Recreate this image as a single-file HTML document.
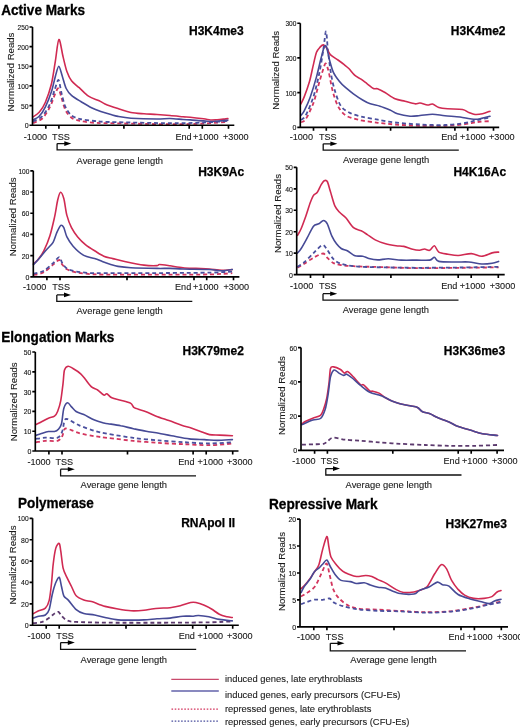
<!DOCTYPE html><html><head><meta charset="utf-8"><style>
html,body{margin:0;padding:0;background:#fff;width:520px;height:728px;overflow:hidden}
svg{display:block;filter:blur(0.3px)}
text{font-family:"Liberation Sans",sans-serif;fill:#1c1c1c}
.h{font-weight:bold;font-size:14.6px;fill:#000;stroke:#000;stroke-width:0.3px}
.t{font-weight:bold;font-size:12px;fill:#000;stroke:#000;stroke-width:0.25px}
.xl{font-size:9.9px;fill:#1a1a1a;stroke:#1a1a1a;stroke-width:0.12px}
.yl{font-size:8px;fill:#111;stroke:#111;stroke-width:0.12px}
.nr{font-size:9.6px;fill:#1a1a1a;stroke:#1a1a1a;stroke-width:0.1px}
.av{font-size:9.4px;fill:#1a1a1a;stroke:#1a1a1a;stroke-width:0.1px}
.lg{font-size:9.4px;fill:#1a1a1a;stroke:#1a1a1a;stroke-width:0.1px}
.ax{stroke:#000;stroke-width:1.65;fill:none}
.ar{stroke:#111;stroke-width:1.3;fill:none}
.c{fill:none;stroke-width:1.6;stroke-linejoin:round;stroke-linecap:round}
.d{fill:none;stroke-width:1.8;stroke-dasharray:4 2.9}
</style></head><body>
<svg width="520" height="728" viewBox="0 0 520 728">
<rect width="520" height="728" fill="#fff"/>
<text class="h" x="1.2" y="14.8" textLength="83.8" lengthAdjust="spacingAndGlyphs">Active Marks</text>
<text class="h" x="1.2" y="342.4" textLength="113.2" lengthAdjust="spacingAndGlyphs">Elongation Marks</text>
<text class="h" x="18.0" y="507.7" textLength="75.9" lengthAdjust="spacingAndGlyphs">Polymerase</text>
<text class="h" x="269" y="508.6" textLength="108.5" lengthAdjust="spacingAndGlyphs">Repressive Mark</text>
<path class="d" stroke="#d3355e" d="M33.0,123.0C34.4,122.3 39.8,120.9 42.3,118.5C44.8,116.1 48.0,110.7 50.0,106.9C52.0,103.1 54.1,95.9 55.4,93.1C56.7,90.3 57.6,87.8 58.5,88.5C59.4,89.2 60.5,94.5 61.5,97.7C62.5,100.9 63.9,107.0 65.4,110.0C66.9,113.0 69.2,116.0 71.5,117.7C73.8,119.4 77.3,120.2 80.8,121.0C84.3,121.8 90.2,122.5 94.6,122.8C99.0,123.1 98.7,123.0 110.0,123.2C121.3,123.4 156.0,124.2 170.0,124.2C184.0,124.2 194.9,123.9 203.6,123.5C212.3,123.1 224.3,122.1 227.9,121.8"/>
<path class="d" stroke="#4a4f9e" d="M33.0,121.5C34.4,120.7 39.8,118.9 42.3,116.2C44.8,113.5 48.2,107.7 50.0,103.8C51.8,99.9 53.3,93.6 54.6,90.0C55.9,86.4 57.5,79.5 58.5,80.0C59.5,80.5 60.5,89.1 61.5,93.1C62.5,97.1 63.9,103.6 65.4,106.9C66.9,110.2 69.2,113.6 71.5,115.4C73.8,117.2 77.3,118.4 80.8,119.2C84.3,120.0 90.2,120.6 94.6,121.0C99.0,121.4 98.7,121.7 110.0,122.0C121.3,122.3 156.9,123.1 170.0,123.2C183.1,123.3 190.9,123.0 197.0,122.8C203.1,122.6 205.8,122.5 210.4,122.2C215.0,121.9 225.3,121.1 227.9,120.9"/>
<path class="c" stroke="#d02a52" d="M33.0,116.9C33.9,116.2 37.3,114.5 39.2,112.3C41.1,110.1 43.6,106.6 45.4,102.3C47.2,98.0 50.0,90.0 51.5,83.8C53.0,77.6 54.3,67.4 55.4,60.8C56.5,54.2 57.7,40.1 58.9,39.5C60.1,38.9 61.9,52.1 63.1,56.9C64.3,61.7 65.6,67.9 66.9,71.5C68.2,75.1 69.7,78.4 71.5,80.8C73.3,83.2 76.7,85.4 79.2,87.7C81.8,90.0 85.5,94.2 88.5,96.2C91.5,98.2 96.7,99.6 99.2,100.8C101.7,102.0 102.2,102.7 105.0,103.9C107.8,105.1 114.1,107.3 118.0,108.6C121.9,109.9 127.1,111.7 131.0,112.5C134.9,113.3 140.1,113.5 144.0,113.8C147.9,114.1 153.1,114.2 157.0,114.5C160.9,114.8 166.1,115.2 170.0,115.5C173.9,115.8 180.0,116.5 183.0,116.8C186.0,117.1 187.1,116.9 190.2,117.2C193.3,117.5 200.6,118.4 203.6,118.8C206.6,119.2 208.4,119.8 210.4,120.0C212.4,120.2 215.1,119.9 217.1,119.8C219.1,119.7 222.2,119.3 223.8,119.1C225.4,118.9 227.3,118.7 227.9,118.6"/>
<path class="c" stroke="#464a96" d="M33.0,120.0C33.9,119.4 37.3,118.2 39.2,116.2C41.1,114.2 43.6,110.6 45.4,106.9C47.2,103.2 50.0,96.1 51.5,91.5C53.0,86.9 54.3,80.0 55.4,76.2C56.5,72.4 57.8,66.2 58.8,66.2C59.8,66.2 61.2,72.9 62.3,76.2C63.4,79.5 64.8,85.6 66.2,88.5C67.6,91.4 69.3,93.5 71.5,95.4C73.7,97.4 77.8,99.7 80.8,101.5C83.8,103.3 88.5,106.2 91.5,107.7C94.5,109.2 98.0,110.5 100.8,111.5C103.6,112.5 107.4,113.6 110.0,114.3C112.6,115.0 114.8,115.8 118.0,116.4C121.2,117.0 125.2,117.8 131.0,118.2C136.8,118.6 151.2,119.0 157.0,119.0C162.8,119.0 166.1,118.4 170.0,118.5C173.9,118.6 180.0,119.3 183.0,119.5C186.0,119.7 187.1,119.7 190.2,119.9C193.3,120.1 200.2,120.7 203.6,120.9C207.0,121.1 210.4,121.5 213.0,121.5C215.6,121.5 218.8,121.1 221.0,120.9C223.2,120.7 226.9,120.3 227.9,120.2"/>
<path class="ax" d="M32.5,27.0V125.2M30.2,125.2H234.3M29.5,125.2H32.5M29.5,105.6H32.5M29.5,85.9H32.5M29.5,66.3H32.5M29.5,46.6H32.5M29.5,27.0H32.5M45.8,125.2V128.7M58.9,125.2V128.7M123.9,125.2V128.7M189.2,125.2V128.7M202.3,125.2V128.7M228.5,125.2V128.7"/>
<text class="yl" x="24.7" y="128.1" textLength="3.9" lengthAdjust="spacingAndGlyphs">0</text>
<text class="yl" x="21.0" y="108.5" textLength="7.6" lengthAdjust="spacingAndGlyphs">50</text>
<text class="yl" x="17.6" y="88.8" textLength="11.0" lengthAdjust="spacingAndGlyphs">100</text>
<text class="yl" x="17.6" y="69.2" textLength="11.0" lengthAdjust="spacingAndGlyphs">150</text>
<text class="yl" x="17.6" y="49.5" textLength="11.0" lengthAdjust="spacingAndGlyphs">200</text>
<text class="yl" x="17.6" y="29.9" textLength="11.0" lengthAdjust="spacingAndGlyphs">250</text>
<text class="xl" x="23.8" y="139.5" textLength="23.3" lengthAdjust="spacingAndGlyphs">-1000</text>
<text class="xl" x="52.1" y="139.5" textLength="17.7" lengthAdjust="spacingAndGlyphs">TSS</text>
<text class="xl" x="175.4" y="139.5" textLength="16.2" lengthAdjust="spacingAndGlyphs">End</text>
<text class="xl" x="193" y="139.5" textLength="25.6" lengthAdjust="spacingAndGlyphs">+1000</text>
<text class="xl" x="223" y="139.5" textLength="25.6" lengthAdjust="spacingAndGlyphs">+3000</text>
<text class="nr" transform="translate(14.1,72.1) rotate(-90)" text-anchor="middle">Normalized Reads</text>
<text class="t" x="189" y="35.2">H3K4me3</text>
<path class="ar" d="M57.1,143.6V149.9H192.8M57.1,143.6H65.1"/>
<path d="M64.3,141.3L71.3,143.6L64.3,145.9Z" fill="#000"/>
<text class="av" x="76.6" y="163.8">Average gene length</text>
<path class="d" stroke="#d3355e" d="M301.0,122.3C301.7,121.8 303.8,122.1 305.7,119.2C307.6,116.3 311.3,108.8 313.4,103.1C315.5,97.4 317.9,87.0 319.5,81.5C321.1,76.0 323.2,68.9 324.2,66.2C325.2,63.5 325.3,62.9 326.0,63.8C326.7,64.7 327.8,68.2 328.8,72.3C329.8,76.3 331.2,85.7 332.6,90.8C334.0,95.9 336.0,102.5 338.0,106.2C340.0,109.9 342.5,113.3 345.7,115.4C348.9,117.5 354.7,118.9 359.5,120.0C364.3,121.1 372.7,122.1 378.0,122.8C383.3,123.5 388.7,124.0 395.0,124.5C401.3,125.0 412.5,125.6 420.0,125.8C427.5,126.0 438.2,126.0 445.0,125.8C451.8,125.6 460.1,124.8 465.0,124.2C469.9,123.6 473.8,122.5 477.5,122.0C481.2,121.5 488.1,121.3 490.0,121.2"/>
<path class="d" stroke="#4a4f9e" d="M301.0,120.0C301.7,119.3 303.8,118.9 305.7,115.4C307.6,111.9 311.3,103.4 313.4,96.9C315.5,90.4 318.0,79.5 319.5,72.3C321.0,65.1 322.4,55.3 323.4,49.2C324.4,43.1 325.3,31.3 326.0,31.5C326.7,31.7 327.2,44.5 328.0,50.8C328.8,57.1 330.0,67.8 331.0,73.8C332.0,79.8 333.4,85.9 334.9,90.8C336.4,95.7 338.7,102.9 341.0,106.2C343.3,109.5 347.1,111.5 350.3,113.1C353.5,114.7 358.4,115.9 362.6,116.9C366.8,117.9 373.1,118.9 378.0,119.7C382.9,120.5 388.7,121.8 395.0,122.5C401.3,123.2 412.5,124.1 420.0,124.5C427.5,124.9 438.2,125.2 445.0,125.0C451.8,124.8 460.1,123.8 465.0,123.0C469.9,122.2 473.8,120.8 477.5,120.0C481.2,119.2 488.1,117.9 490.0,117.5"/>
<path class="c" stroke="#d02a52" d="M301.0,103.8C301.5,102.8 302.9,100.2 304.2,96.9C305.5,93.6 308.1,86.3 309.5,81.5C310.9,76.7 312.3,69.0 313.4,64.6C314.4,60.2 315.5,55.0 316.5,52.3C317.5,49.6 319.3,48.0 320.3,46.9C321.3,45.8 322.5,44.8 323.4,44.9C324.3,45.0 325.5,46.2 326.5,47.7C327.5,49.2 328.6,52.8 330.3,54.6C332.0,56.4 335.9,58.5 338.0,60.0C340.1,61.5 342.6,63.3 344.2,64.6C345.8,65.9 347.2,66.9 348.8,68.5C350.4,70.1 353.1,73.8 354.9,75.4C356.7,77.0 359.2,77.9 361.0,79.2C362.8,80.5 365.3,82.4 367.2,83.8C369.1,85.2 371.9,87.8 373.4,88.5C374.9,89.2 375.8,88.2 377.5,88.8C379.2,89.4 382.4,91.0 385.0,92.5C387.6,94.0 392.0,97.5 395.0,98.8C398.0,100.1 402.0,100.5 405.0,101.2C408.0,102.0 412.8,103.5 415.0,103.8C417.2,104.1 418.1,102.8 420.0,103.0C421.9,103.2 425.6,104.8 427.5,105.0C429.4,105.2 430.8,103.6 432.5,104.0C434.2,104.4 436.6,106.8 438.8,107.5C441.1,108.2 443.9,108.5 447.5,108.8C451.1,109.1 459.3,108.9 462.5,109.5C465.7,110.1 466.9,111.8 468.8,112.5C470.7,113.2 472.9,114.3 475.0,114.5C477.1,114.7 480.2,114.3 482.5,113.8C484.8,113.3 488.9,111.6 490.0,111.2"/>
<path class="c" stroke="#464a96" d="M301.0,115.4C301.5,114.7 302.8,113.6 304.2,110.8C305.6,108.0 308.5,102.0 310.3,96.9C312.1,91.8 314.9,82.7 316.5,76.9C318.1,71.1 319.8,63.0 321.0,58.5C322.2,54.0 323.4,48.6 324.2,46.9C325.0,45.2 325.7,44.9 326.5,46.9C327.3,48.9 328.5,56.2 329.5,60.0C330.5,63.8 331.9,69.1 333.4,72.3C334.9,75.5 337.7,79.2 339.5,81.5C341.3,83.8 343.6,85.9 345.7,87.7C347.8,89.5 350.9,92.0 353.4,93.8C355.9,95.6 360.1,98.5 362.6,100.0C365.1,101.5 367.7,102.9 370.3,103.8C372.9,104.7 377.0,105.3 380.0,106.2C383.0,107.1 387.4,108.9 390.0,110.0C392.6,111.1 394.5,112.9 397.5,113.8C400.5,114.7 406.6,115.9 410.0,116.2C413.4,116.5 416.6,115.8 420.0,115.5C423.4,115.2 428.8,114.2 432.5,114.2C436.2,114.2 440.9,115.4 445.0,115.8C449.1,116.2 456.2,116.5 460.0,117.0C463.8,117.5 467.4,118.5 470.0,118.8C472.6,119.1 474.5,119.6 477.5,119.2C480.5,118.8 488.1,116.7 490.0,116.2"/>
<path class="ax" d="M300.3,23.2V127.3M298.0,127.3H499.2M297.3,127.3H300.3M297.3,92.6H300.3M297.3,57.9H300.3M297.3,23.2H300.3M313.5,127.3V130.8M326.3,127.3V130.8M390.6,127.3V130.8M454.9,127.3V130.8M467.7,127.3V130.8M493.5,127.3V130.8"/>
<text class="yl" x="292.5" y="130.2" textLength="3.9" lengthAdjust="spacingAndGlyphs">0</text>
<text class="yl" x="285.4" y="95.5" textLength="11.0" lengthAdjust="spacingAndGlyphs">100</text>
<text class="yl" x="285.4" y="60.8" textLength="11.0" lengthAdjust="spacingAndGlyphs">200</text>
<text class="yl" x="285.4" y="26.1" textLength="11.0" lengthAdjust="spacingAndGlyphs">300</text>
<text class="xl" x="289.7" y="139.5" textLength="23.3" lengthAdjust="spacingAndGlyphs">-1000</text>
<text class="xl" x="318.9" y="139.5" textLength="17.7" lengthAdjust="spacingAndGlyphs">TSS</text>
<text class="xl" x="441.2" y="139.5" textLength="16.2" lengthAdjust="spacingAndGlyphs">End</text>
<text class="xl" x="460" y="139.5" textLength="25.6" lengthAdjust="spacingAndGlyphs">+1000</text>
<text class="xl" x="489" y="139.5" textLength="25.6" lengthAdjust="spacingAndGlyphs">+3000</text>
<text class="nr" transform="translate(279.1,70.3) rotate(-90)" text-anchor="middle">Normalized Reads</text>
<text class="t" x="450.8" y="35.2">H3K4me2</text>
<path class="ar" d="M323.2,143.8V150.1H458.8M323.2,143.8H331.2"/>
<path d="M330.4,141.5L337.4,143.8L330.4,146.1Z" fill="#000"/>
<text class="av" x="342.9" y="163.3">Average gene length</text>
<path class="d" stroke="#d3355e" d="M33.5,275.0C35.0,274.6 40.9,273.9 43.8,272.3C46.7,270.7 50.8,266.4 53.1,264.6C55.4,262.8 57.8,260.0 59.2,260.0C60.6,260.0 61.1,263.2 62.3,264.6C63.5,266.0 64.8,268.0 66.9,269.2C69.0,270.4 72.5,271.6 76.2,272.3C79.9,273.1 86.4,273.9 91.5,274.2C96.6,274.5 98.2,274.5 110.0,274.6C121.8,274.7 155.0,274.7 170.0,274.7C185.0,274.7 200.7,274.6 210.0,274.4C219.3,274.2 229.0,273.4 232.3,273.2"/>
<path class="d" stroke="#4a4f9e" d="M33.5,273.8C35.0,273.4 40.9,272.4 43.8,270.8C46.7,269.2 50.8,265.1 53.1,263.1C55.4,261.1 57.8,257.2 59.2,257.2C60.6,257.2 61.1,261.4 62.3,263.1C63.5,264.8 64.8,267.2 66.9,268.5C69.0,269.8 72.5,270.8 76.2,271.5C79.9,272.2 86.4,272.9 91.5,273.1C96.6,273.3 98.2,273.1 110.0,273.1C121.8,273.1 155.0,273.1 170.0,273.0C185.0,272.9 200.7,272.8 210.0,272.6C219.3,272.4 229.0,271.8 232.3,271.6"/>
<path class="c" stroke="#d02a52" d="M33.5,263.8C34.1,263.2 36.2,261.9 37.7,260.0C39.2,258.1 42.0,254.5 43.8,250.8C45.6,247.1 48.4,240.5 50.0,235.4C51.6,230.3 53.4,222.2 54.6,216.9C55.8,211.6 56.8,203.7 57.7,200.0C58.6,196.3 59.6,192.5 60.5,192.3C61.4,192.1 62.8,195.0 63.8,198.5C64.8,202.0 65.7,211.0 66.9,215.4C68.1,219.8 69.9,224.5 71.5,227.7C73.1,230.9 75.6,234.4 77.7,236.9C79.8,239.4 82.9,242.5 85.4,244.6C87.9,246.7 91.8,249.1 94.6,250.8C97.4,252.5 101.1,255.0 103.8,256.2C106.5,257.4 109.5,257.8 112.8,258.6C116.1,259.4 121.1,260.7 125.8,261.7C130.5,262.7 139.3,264.5 144.0,265.1C148.7,265.7 154.7,265.7 157.0,265.6C159.3,265.5 157.6,264.5 159.5,264.5C161.4,264.5 166.5,265.3 170.0,265.8C173.5,266.3 179.1,267.3 183.0,267.7C186.9,268.1 192.1,268.2 196.0,268.4C199.9,268.6 205.1,268.7 209.0,269.0C212.9,269.3 218.4,270.2 221.9,270.3C225.4,270.4 230.7,269.6 232.3,269.5"/>
<path class="c" stroke="#464a96" d="M33.5,264.6C34.4,263.7 37.2,260.8 39.2,258.5C41.2,256.2 44.8,251.6 46.9,249.2C49.0,246.8 51.6,244.8 53.1,242.3C54.6,239.8 55.7,234.8 56.9,232.3C58.1,229.8 59.8,226.1 60.8,225.4C61.8,224.7 62.9,226.0 63.8,227.7C64.7,229.4 65.5,234.1 66.9,236.9C68.3,239.7 70.6,243.4 73.1,246.2C75.6,249.0 80.6,253.6 83.8,255.4C87.0,257.2 91.8,257.6 94.6,258.5C97.4,259.4 100.0,260.6 102.3,261.5C104.6,262.4 107.6,263.6 110.0,264.3C112.4,265.0 114.8,265.9 118.0,266.4C121.2,266.9 125.2,267.4 131.0,267.7C136.8,268.0 151.2,268.3 157.0,268.4C162.8,268.5 166.1,268.3 170.0,268.4C173.9,268.5 177.2,268.8 183.0,269.0C188.8,269.2 203.2,269.2 209.0,269.5C214.8,269.8 218.4,270.8 221.9,270.8C225.4,270.8 230.7,269.7 232.3,269.5"/>
<path class="ax" d="M33.3,170.8V276.8M30.8,276.8H239.4M30.3,276.8H33.3M30.3,255.6H33.3M30.3,234.4H33.3M30.3,213.2H33.3M30.3,192.0H33.3M30.3,170.8H33.3M46.9,276.8V280.3M60.0,276.8V280.3M127.0,276.8V280.3M194.0,276.8V280.3M206.7,276.8V280.3M233.5,276.8V280.3"/>
<text class="yl" x="25.5" y="279.7" textLength="3.9" lengthAdjust="spacingAndGlyphs">0</text>
<text class="yl" x="21.8" y="258.5" textLength="7.6" lengthAdjust="spacingAndGlyphs">20</text>
<text class="yl" x="21.8" y="237.3" textLength="7.6" lengthAdjust="spacingAndGlyphs">40</text>
<text class="yl" x="21.8" y="216.1" textLength="7.6" lengthAdjust="spacingAndGlyphs">60</text>
<text class="yl" x="21.8" y="194.9" textLength="7.6" lengthAdjust="spacingAndGlyphs">80</text>
<text class="yl" x="18.4" y="173.7" textLength="11.0" lengthAdjust="spacingAndGlyphs">100</text>
<text class="xl" x="23" y="290.4" textLength="23.3" lengthAdjust="spacingAndGlyphs">-1000</text>
<text class="xl" x="52.3" y="290.4" textLength="17.7" lengthAdjust="spacingAndGlyphs">TSS</text>
<text class="xl" x="175" y="290.4" textLength="16.2" lengthAdjust="spacingAndGlyphs">End</text>
<text class="xl" x="193" y="290.4" textLength="25.6" lengthAdjust="spacingAndGlyphs">+1000</text>
<text class="xl" x="223.5" y="290.4" textLength="25.6" lengthAdjust="spacingAndGlyphs">+3000</text>
<text class="nr" transform="translate(16.0,216.9) rotate(-90)" text-anchor="middle">Normalized Reads</text>
<text class="t" x="198.2" y="175.6">H3K9Ac</text>
<path class="ar" d="M56.8,294.9V301.4H192.3M56.8,294.9H64.8"/>
<path d="M64.0,292.6L71.0,294.9L64.0,297.2Z" fill="#000"/>
<text class="av" x="76.4" y="314.4">Average gene length</text>
<path class="d" stroke="#d3355e" d="M297.5,267.7C298.5,267.1 301.8,265.3 304.2,263.8C306.6,262.3 310.7,259.2 313.5,257.7C316.3,256.2 320.9,253.5 323.0,253.5C325.1,253.5 325.7,256.3 327.3,257.7C328.9,259.1 331.4,262.0 333.5,263.1C335.6,264.2 338.2,264.6 341.2,265.1C344.2,265.6 348.4,265.9 353.5,266.2C358.6,266.5 365.0,266.6 375.0,266.9C385.0,267.2 407.2,268.1 420.0,268.2C432.8,268.3 448.2,267.9 460.0,267.8C471.8,267.7 492.8,267.4 498.6,267.3"/>
<path class="d" stroke="#4a4f9e" d="M297.5,266.9C298.5,266.2 301.8,264.4 304.2,262.3C306.6,260.2 310.8,255.7 313.5,253.1C316.2,250.5 320.3,245.6 322.4,245.1C324.5,244.6 325.6,247.9 327.3,250.0C329.0,252.1 331.4,257.1 333.5,259.2C335.6,261.3 338.2,262.8 341.2,263.8C344.2,264.9 348.4,265.7 353.5,266.2C358.6,266.7 365.0,267.0 375.0,267.2C385.0,267.4 407.2,267.8 420.0,267.8C432.8,267.8 448.2,267.6 460.0,267.5C471.8,267.4 492.8,266.9 498.6,266.8"/>
<path class="c" stroke="#d02a52" d="M297.5,235.4C298.1,234.4 300.0,231.4 301.2,228.5C302.4,225.6 304.4,220.1 305.8,216.2C307.2,212.3 309.2,205.4 310.4,202.3C311.6,199.2 312.5,196.9 313.5,195.4C314.5,193.9 316.1,193.9 317.3,192.3C318.5,190.7 320.2,186.3 321.2,184.6C322.2,182.9 323.3,181.3 324.2,180.8C325.1,180.3 326.4,179.9 327.3,181.5C328.2,183.1 329.2,187.8 330.4,191.5C331.6,195.2 333.6,203.1 335.0,206.2C336.4,209.3 338.0,210.6 339.6,212.3C341.2,214.0 343.7,215.4 345.8,217.7C347.9,220.0 351.2,225.7 353.5,227.7C355.8,229.7 359.1,229.8 361.2,230.8C363.3,231.8 365.2,233.2 367.3,234.6C369.4,236.0 372.5,238.5 375.2,239.9C377.9,241.3 382.5,242.9 385.6,243.8C388.7,244.7 393.3,245.4 396.0,245.8C398.7,246.2 401.5,245.9 403.8,246.4C406.1,246.9 409.3,248.4 411.6,249.0C413.9,249.6 417.5,250.3 419.4,250.3C421.3,250.3 423.0,249.0 424.5,249.0C426.0,249.0 428.2,250.8 429.7,250.3C431.2,249.8 433.0,245.5 434.4,245.8C435.8,246.1 436.8,250.8 438.8,252.1C440.8,253.4 445.0,253.7 447.9,254.2C450.8,254.7 454.8,255.6 458.3,255.5C461.8,255.4 467.8,253.5 471.3,253.6C474.8,253.7 478.6,256.3 481.7,256.2C484.8,256.1 489.6,253.5 492.1,252.9C494.6,252.3 497.6,252.2 498.6,252.1"/>
<path class="c" stroke="#464a96" d="M297.5,253.1C298.1,252.4 299.7,250.8 301.2,248.5C302.7,246.2 305.5,241.0 307.3,237.7C309.1,234.4 311.8,228.3 313.5,226.2C315.2,224.1 317.3,224.7 318.8,223.8C320.3,222.9 322.2,220.5 323.5,220.5C324.8,220.5 326.0,221.4 327.3,223.8C328.6,226.2 330.5,233.2 331.9,236.2C333.3,239.2 335.1,242.0 336.5,243.8C337.9,245.6 339.6,247.4 341.2,248.5C342.8,249.6 345.2,249.7 347.3,250.8C349.4,251.9 352.7,255.0 355.0,255.8C357.3,256.6 360.6,255.8 362.7,256.2C364.8,256.6 366.5,257.9 368.8,258.5C371.1,259.1 374.9,259.9 377.8,259.9C380.7,259.9 384.7,258.8 388.2,258.8C391.7,258.8 396.9,259.9 401.2,260.1C405.5,260.3 412.5,260.1 416.8,260.1C421.1,260.1 427.1,260.5 429.7,260.1C432.3,259.7 433.0,257.1 434.4,257.3C435.8,257.5 435.6,260.7 438.8,261.4C442.0,262.1 451.2,261.9 455.7,262.0C460.2,262.1 464.8,261.7 468.7,262.0C472.6,262.3 478.2,263.8 481.7,264.0C485.2,264.2 489.6,263.6 492.1,263.2C494.6,262.8 497.6,261.7 498.6,261.4"/>
<path class="ax" d="M296.7,167.3V274.6M294.2,274.6H504.7M293.7,274.6H296.7M293.7,253.1H296.7M293.7,231.7H296.7M293.7,210.2H296.7M293.7,188.8H296.7M293.7,167.3H296.7M310.5,274.6V278.1M323.5,274.6V278.1M390.9,274.6V278.1M458.2,274.6V278.1M471.2,274.6V278.1M498.3,274.6V278.1"/>
<text class="yl" x="288.9" y="277.5" textLength="3.9" lengthAdjust="spacingAndGlyphs">0</text>
<text class="yl" x="285.2" y="256.0" textLength="7.6" lengthAdjust="spacingAndGlyphs">10</text>
<text class="yl" x="285.2" y="234.6" textLength="7.6" lengthAdjust="spacingAndGlyphs">20</text>
<text class="yl" x="285.2" y="213.1" textLength="7.6" lengthAdjust="spacingAndGlyphs">30</text>
<text class="yl" x="285.2" y="191.7" textLength="7.6" lengthAdjust="spacingAndGlyphs">40</text>
<text class="yl" x="285.2" y="170.2" textLength="7.6" lengthAdjust="spacingAndGlyphs">50</text>
<text class="xl" x="290" y="289" textLength="23.3" lengthAdjust="spacingAndGlyphs">-1000</text>
<text class="xl" x="319" y="289" textLength="17.7" lengthAdjust="spacingAndGlyphs">TSS</text>
<text class="xl" x="441.2" y="289" textLength="16.2" lengthAdjust="spacingAndGlyphs">End</text>
<text class="xl" x="459.8" y="289" textLength="25.6" lengthAdjust="spacingAndGlyphs">+1000</text>
<text class="xl" x="489.7" y="289" textLength="25.6" lengthAdjust="spacingAndGlyphs">+3000</text>
<text class="nr" transform="translate(280.8,213.5) rotate(-90)" text-anchor="middle">Normalized Reads</text>
<text class="t" x="453.4" y="175.9">H4K16Ac</text>
<path class="ar" d="M323,293.7V300.2H458.5M323,293.7H331"/>
<path d="M330.2,291.4L337.2,293.7L330.2,296.0Z" fill="#000"/>
<text class="av" x="342.7" y="313.0">Average gene length</text>
<path class="d" stroke="#d3355e" d="M36.0,442.3C37.4,442.1 42.1,441.0 45.3,440.8C48.5,440.6 55.1,441.5 57.6,440.8C60.1,440.1 61.2,437.9 62.2,436.2C63.2,434.5 63.7,430.3 64.5,429.2C65.3,428.1 65.4,428.2 67.6,428.8C69.8,429.4 75.2,432.0 79.2,433.1C83.2,434.2 90.2,435.5 94.5,436.2C98.8,436.9 102.2,437.2 108.0,437.9C113.8,438.6 125.8,440.1 133.4,440.9C141.0,441.6 151.2,442.4 158.8,442.9C166.4,443.4 176.5,443.9 184.1,444.2C191.7,444.5 202.3,445.3 209.5,445.2C216.7,445.1 229.0,443.8 232.4,443.5"/>
<path class="d" stroke="#4a4f9e" d="M36.0,438.9C37.4,438.7 42.1,437.9 45.3,437.7C48.5,437.5 55.1,438.6 57.6,437.7C60.1,436.8 61.2,434.0 62.2,431.5C63.2,429.0 63.7,422.6 64.5,420.8C65.3,419.0 65.4,418.5 67.6,419.2C69.8,419.9 75.2,423.7 79.2,425.4C83.2,427.1 90.2,429.5 94.5,430.8C98.8,432.1 102.2,432.7 108.0,433.8C113.8,434.9 125.8,436.9 133.4,437.9C141.0,438.9 151.2,439.8 158.8,440.4C166.4,441.0 176.5,441.7 184.1,442.2C191.7,442.7 202.3,443.5 209.5,443.5C216.7,443.5 229.0,442.4 232.4,442.2"/>
<path class="c" stroke="#d02a52" d="M36.0,424.6C36.7,424.3 38.8,423.3 40.7,422.3C42.6,421.3 46.3,419.1 48.4,418.2C50.5,417.3 53.1,417.2 54.5,416.2C55.9,415.2 56.7,413.8 57.6,411.5C58.5,409.2 59.9,405.0 60.7,400.8C61.5,396.6 62.4,388.4 63.0,383.8C63.6,379.2 63.7,372.6 64.5,370.0C65.3,367.4 66.8,366.4 68.1,366.2C69.4,366.0 71.1,367.4 73.0,368.5C74.9,369.6 78.9,372.2 80.7,373.8C82.5,375.4 83.7,377.2 85.3,379.2C86.9,381.2 89.7,385.3 91.5,386.9C93.3,388.5 95.8,388.8 97.6,390.0C99.4,391.2 102.4,394.5 103.8,395.1C105.2,395.7 105.6,393.4 106.8,393.8C108.0,394.2 109.7,396.8 111.8,397.8C113.9,398.8 117.8,399.5 120.7,400.3C123.6,401.1 128.7,402.3 130.8,403.4C132.9,404.5 132.3,406.7 134.6,407.9C136.9,409.1 142.9,410.4 146.1,411.7C149.3,413.0 152.8,415.0 156.2,416.3C159.6,417.6 165.1,419.3 168.9,420.6C172.7,421.9 178.2,424.1 181.6,425.2C185.0,426.3 188.8,427.2 191.8,428.2C194.8,429.2 199.2,431.0 201.9,432.0C204.6,433.0 206.8,434.1 209.5,434.6C212.2,435.1 216.3,434.9 219.7,435.1C223.1,435.3 230.5,435.7 232.4,435.8"/>
<path class="c" stroke="#464a96" d="M36.0,435.4C36.7,435.2 38.8,434.4 40.7,433.8C42.6,433.2 46.3,431.8 48.4,431.5C50.5,431.2 53.0,431.8 54.5,431.5C56.0,431.2 57.4,430.4 58.4,429.2C59.4,428.0 60.7,426.9 61.5,423.8C62.3,420.7 62.9,411.6 63.8,408.5C64.7,405.4 66.4,403.0 67.6,402.8C68.8,402.6 70.2,405.6 71.5,406.9C72.8,408.2 74.3,410.3 76.1,411.5C77.9,412.7 81.0,413.3 83.8,414.6C86.6,415.9 91.5,418.7 94.5,420.0C97.5,421.3 101.8,422.5 103.8,423.1C105.8,423.7 105.5,423.3 108.0,423.7C110.5,424.1 116.9,424.9 120.7,425.7C124.5,426.4 129.6,427.9 133.4,428.7C137.2,429.5 142.3,430.6 146.1,431.3C149.9,432.0 155.0,432.6 158.8,433.3C162.6,434.0 166.9,435.0 171.5,435.8C176.1,436.6 184.3,438.3 189.2,438.9C194.1,439.5 200.2,439.4 204.4,439.6C208.6,439.8 212.9,440.4 217.1,440.4C221.3,440.4 230.1,439.7 232.4,439.6"/>
<path class="ax" d="M35.3,352.0V451.0M32.8,451.0H238.5M32.3,451.0H35.3M32.3,431.2H35.3M32.3,411.4H35.3M32.3,391.6H35.3M32.3,371.8H35.3M32.3,352.0H35.3M48.9,451.0V454.5M62.0,451.0V454.5M127.5,451.0V454.5M193.1,451.0V454.5M206.2,451.0V454.5M232.7,451.0V454.5"/>
<text class="yl" x="27.5" y="453.9" textLength="3.9" lengthAdjust="spacingAndGlyphs">0</text>
<text class="yl" x="23.8" y="434.1" textLength="7.6" lengthAdjust="spacingAndGlyphs">10</text>
<text class="yl" x="23.8" y="414.3" textLength="7.6" lengthAdjust="spacingAndGlyphs">20</text>
<text class="yl" x="23.8" y="394.5" textLength="7.6" lengthAdjust="spacingAndGlyphs">30</text>
<text class="yl" x="23.8" y="374.7" textLength="7.6" lengthAdjust="spacingAndGlyphs">40</text>
<text class="yl" x="23.8" y="354.9" textLength="7.6" lengthAdjust="spacingAndGlyphs">50</text>
<text class="xl" x="27.4" y="464.8" textLength="23.3" lengthAdjust="spacingAndGlyphs">-1000</text>
<text class="xl" x="55.4" y="464.8" textLength="17.7" lengthAdjust="spacingAndGlyphs">TSS</text>
<text class="xl" x="178.3" y="464.8" textLength="16.2" lengthAdjust="spacingAndGlyphs">End</text>
<text class="xl" x="197.5" y="464.8" textLength="25.6" lengthAdjust="spacingAndGlyphs">+1000</text>
<text class="xl" x="227" y="464.8" textLength="25.6" lengthAdjust="spacingAndGlyphs">+3000</text>
<text class="nr" transform="translate(17.2,401.8) rotate(-90)" text-anchor="middle">Normalized Reads</text>
<text class="t" x="182.5" y="354.6">H3K79me2</text>
<path class="ar" d="M60.6,469.2V475.8H196M60.6,469.2H68.6"/>
<path d="M67.8,466.9L74.8,469.2L67.8,471.5Z" fill="#000"/>
<text class="av" x="80.6" y="488.3">Average gene length</text>
<path class="d" stroke="#5c3a6e" d="M302.0,444.6C303.9,444.6 311.2,444.4 314.4,444.3C317.6,444.2 321.6,444.2 323.6,443.8C325.6,443.4 326.1,442.4 327.5,441.5C328.9,440.6 330.1,438.0 332.8,437.7C335.5,437.4 341.0,439.2 345.2,439.7C349.4,440.2 355.4,440.4 360.5,440.8C365.6,441.2 373.1,441.9 379.0,442.3C384.9,442.8 393.1,443.4 400.0,443.8C406.9,444.2 417.5,444.7 425.0,445.0C432.5,445.3 442.5,445.7 450.0,445.8C457.5,445.9 467.9,445.9 475.0,445.8C482.1,445.7 494.1,445.1 497.5,445.0"/>
<path class="c" stroke="#d02a52" d="M302.0,423.8C302.5,423.5 303.6,422.3 305.2,421.5C306.8,420.7 310.5,419.1 312.8,418.2C315.1,417.3 318.9,416.8 320.5,415.4C322.1,414.0 322.7,411.7 323.6,409.2C324.5,406.7 325.9,402.4 326.7,398.5C327.5,394.6 328.4,387.6 329.0,383.1C329.6,378.6 329.8,370.9 330.5,368.5C331.2,366.1 332.1,366.8 333.6,366.9C335.1,367.0 338.9,368.6 340.5,369.5C342.1,370.4 343.3,372.8 344.4,373.1C345.4,373.4 346.2,371.0 347.5,371.5C348.8,372.0 350.9,374.2 352.8,376.2C354.8,378.2 358.9,383.3 360.5,384.6C362.1,385.9 362.2,384.0 363.6,384.9C365.0,385.8 368.4,389.9 369.8,390.8C371.2,391.7 371.4,390.9 372.8,391.2C374.2,391.5 377.2,392.2 379.0,393.1C380.8,394.0 383.0,396.3 385.0,397.5C387.0,398.7 390.2,400.3 392.5,401.2C394.8,402.1 397.4,403.1 400.0,403.8C402.6,404.5 407.4,405.2 410.0,405.8C412.6,406.4 415.6,406.6 417.5,407.5C419.4,408.4 420.6,410.9 422.5,411.8C424.4,412.7 427.8,412.9 430.0,413.8C432.2,414.7 434.5,416.2 437.5,417.5C440.5,418.8 447.0,421.2 450.0,422.5C453.0,423.8 454.5,425.1 457.5,426.2C460.5,427.3 466.2,428.9 470.0,430.0C473.8,431.1 478.4,433.0 482.5,433.8C486.6,434.6 495.2,435.2 497.5,435.5"/>
<path class="c" stroke="#464a96" d="M302.0,424.6C303.6,423.9 310.0,420.9 312.8,420.0C315.6,419.1 318.6,420.1 320.5,418.5C322.4,416.9 324.0,412.9 325.2,409.2C326.4,405.5 327.4,398.6 328.2,393.8C329.0,389.0 329.6,380.5 330.5,376.9C331.4,373.3 332.8,370.6 334.1,370.0C335.4,369.4 337.6,372.3 339.0,373.1C340.4,373.9 342.4,375.2 343.6,375.4C344.8,375.6 345.3,373.7 346.7,374.2C348.1,374.7 350.7,376.8 352.8,378.5C354.9,380.2 357.9,383.3 360.5,385.4C363.1,387.5 367.0,390.8 369.8,392.3C372.6,393.8 376.7,394.3 379.0,395.1C381.3,395.9 383.0,396.6 385.0,397.5C387.0,398.4 390.2,400.3 392.5,401.2C394.8,402.1 397.4,403.1 400.0,403.8C402.6,404.5 407.4,405.2 410.0,405.8C412.6,406.4 415.6,406.6 417.5,407.5C419.4,408.4 420.6,410.9 422.5,411.8C424.4,412.7 427.8,412.9 430.0,413.8C432.2,414.7 434.5,416.2 437.5,417.5C440.5,418.8 447.0,421.2 450.0,422.5C453.0,423.8 454.5,425.1 457.5,426.2C460.5,427.3 466.2,428.9 470.0,430.0C473.8,431.1 478.4,433.0 482.5,433.8C486.6,434.6 495.2,435.2 497.5,435.5"/>
<path class="ax" d="M301.0,347.6V450.3M298.5,450.3H504.0M298.0,450.3H301.0M298.0,416.1H301.0M298.0,381.8H301.0M298.0,347.6H301.0M314.6,450.3V453.8M327.4,450.3V453.8M392.8,450.3V453.8M458.2,450.3V453.8M471.2,450.3V453.8M497.1,450.3V453.8"/>
<text class="yl" x="293.2" y="453.2" textLength="3.9" lengthAdjust="spacingAndGlyphs">0</text>
<text class="yl" x="289.5" y="419.0" textLength="7.6" lengthAdjust="spacingAndGlyphs">20</text>
<text class="yl" x="289.5" y="384.7" textLength="7.6" lengthAdjust="spacingAndGlyphs">40</text>
<text class="yl" x="289.5" y="350.5" textLength="7.6" lengthAdjust="spacingAndGlyphs">60</text>
<text class="xl" x="292.3" y="463.9" textLength="23.3" lengthAdjust="spacingAndGlyphs">-1000</text>
<text class="xl" x="320.8" y="463.9" textLength="17.7" lengthAdjust="spacingAndGlyphs">TSS</text>
<text class="xl" x="443.5" y="463.9" textLength="16.2" lengthAdjust="spacingAndGlyphs">End</text>
<text class="xl" x="462" y="463.9" textLength="25.6" lengthAdjust="spacingAndGlyphs">+1000</text>
<text class="xl" x="492" y="463.9" textLength="25.6" lengthAdjust="spacingAndGlyphs">+3000</text>
<text class="nr" transform="translate(284.6,395.6) rotate(-90)" text-anchor="middle">Normalized Reads</text>
<text class="t" x="443.8" y="354.6">H3K36me3</text>
<path class="ar" d="M325.8,468.6V475H461.5M325.8,468.6H333.8"/>
<path d="M333.0,466.3L340.0,468.6L333.0,470.9Z" fill="#000"/>
<text class="av" x="345.6" y="487.5">Average gene length</text>
<path class="d" stroke="#5c3a6e" d="M33.0,623.2C34.4,623.0 39.8,622.8 42.3,621.9C44.8,621.0 48.2,618.6 50.0,617.3C51.8,616.0 53.3,614.3 54.6,613.5C55.9,612.7 57.5,611.6 58.5,611.9C59.5,612.2 60.2,614.5 61.5,615.8C62.8,617.1 64.7,619.5 66.9,620.4C69.1,621.3 69.7,621.6 76.2,621.9C82.7,622.2 95.9,622.6 110.0,622.7C124.1,622.8 155.0,622.8 170.0,622.7C185.0,622.6 200.7,622.5 210.0,622.3C219.3,622.1 229.0,621.5 232.3,621.4"/>
<path class="c" stroke="#d02a52" d="M33.0,613.9C33.7,613.5 35.8,612.1 37.7,611.2C39.6,610.3 43.7,609.7 45.4,608.1C47.1,606.5 48.3,604.1 49.2,600.4C50.1,596.7 50.9,588.8 51.5,583.5C52.1,578.2 52.5,570.3 53.1,565.0C53.7,559.7 54.9,551.3 55.8,548.1C56.7,544.9 58.5,543.0 59.2,543.5C60.0,544.0 60.2,547.5 60.8,551.2C61.4,554.9 62.2,564.2 63.1,568.1C64.0,572.0 65.6,574.5 66.9,577.3C68.2,580.1 70.1,583.7 71.5,586.5C72.9,589.3 74.4,593.8 76.2,595.8C78.0,597.8 81.5,599.2 83.8,600.1C86.1,601.0 89.0,600.9 91.5,601.6C94.0,602.3 98.8,604.3 100.8,605.0C102.8,605.7 102.4,605.8 105.0,606.4C107.6,607.0 114.1,608.3 118.0,609.0C121.9,609.7 127.1,610.6 131.0,610.8C134.9,611.0 140.9,610.6 144.0,610.3C147.1,610.0 149.5,609.3 151.8,609.0C154.1,608.7 156.8,608.4 159.5,608.2C162.2,608.0 166.9,608.1 170.0,607.7C173.1,607.3 177.2,606.6 180.3,605.8C183.4,605.0 188.4,603.0 190.7,602.5C193.0,602.0 194.0,602.1 195.9,602.5C197.8,602.9 201.4,604.1 203.7,605.1C206.0,606.1 209.2,607.6 211.5,609.0C213.8,610.4 217.0,613.0 219.3,614.2C221.6,615.4 225.2,616.3 227.1,616.8C229.0,617.3 231.5,617.4 232.3,617.5"/>
<path class="c" stroke="#464a96" d="M33.0,618.1C33.7,617.9 35.8,617.0 37.7,616.5C39.6,616.0 43.7,616.0 45.4,615.0C47.1,614.0 48.2,612.7 49.2,609.6C50.2,606.5 51.4,598.1 52.3,594.2C53.2,590.3 54.4,586.0 55.4,583.5C56.4,581.0 58.3,576.8 59.2,577.3C60.1,577.8 60.8,583.7 61.5,586.5C62.2,589.3 62.8,593.7 63.8,595.8C64.8,597.9 66.6,598.3 68.5,600.4C70.4,602.5 73.9,607.6 76.2,609.6C78.5,611.6 81.0,612.7 83.8,613.5C86.6,614.3 91.4,614.4 94.6,615.0C97.8,615.6 101.5,616.8 105.0,617.5C108.5,618.2 114.1,619.5 118.0,619.9C121.9,620.3 127.1,620.1 131.0,620.1C134.9,620.1 140.1,620.1 144.0,619.9C147.9,619.7 153.1,619.1 157.0,618.8C160.9,618.5 166.1,618.5 170.0,618.1C173.9,617.7 179.4,616.5 182.9,616.2C186.4,615.9 191.0,616.3 193.3,616.2C195.6,616.1 196.2,615.4 198.5,615.5C200.8,615.6 205.8,616.2 208.9,616.8C212.0,617.4 215.8,618.8 219.3,619.4C222.8,620.0 230.4,620.7 232.3,620.9"/>
<path class="ax" d="M32.6,518.3V625.2M30.1,625.2H238.8M29.6,625.2H32.6M29.6,603.8H32.6M29.6,582.4H32.6M29.6,561.1H32.6M29.6,539.7H32.6M29.6,518.3H32.6M46.2,625.2V628.7M59.2,625.2V628.7M126.0,625.2V628.7M192.7,625.2V628.7M206.2,625.2V628.7M232.7,625.2V628.7"/>
<text class="yl" x="24.8" y="628.1" textLength="3.9" lengthAdjust="spacingAndGlyphs">0</text>
<text class="yl" x="21.1" y="606.7" textLength="7.6" lengthAdjust="spacingAndGlyphs">20</text>
<text class="yl" x="21.1" y="585.3" textLength="7.6" lengthAdjust="spacingAndGlyphs">40</text>
<text class="yl" x="21.1" y="564.0" textLength="7.6" lengthAdjust="spacingAndGlyphs">60</text>
<text class="yl" x="21.1" y="542.6" textLength="7.6" lengthAdjust="spacingAndGlyphs">80</text>
<text class="yl" x="17.7" y="521.2" textLength="11.0" lengthAdjust="spacingAndGlyphs">100</text>
<text class="xl" x="27.4" y="638.7" textLength="23.3" lengthAdjust="spacingAndGlyphs">-1000</text>
<text class="xl" x="56.2" y="638.7" textLength="17.7" lengthAdjust="spacingAndGlyphs">TSS</text>
<text class="xl" x="178.7" y="638.7" textLength="16.2" lengthAdjust="spacingAndGlyphs">End</text>
<text class="xl" x="197.5" y="638.7" textLength="25.6" lengthAdjust="spacingAndGlyphs">+1000</text>
<text class="xl" x="227" y="638.7" textLength="25.6" lengthAdjust="spacingAndGlyphs">+3000</text>
<text class="nr" transform="translate(16.0,565.0) rotate(-90)" text-anchor="middle">Normalized Reads</text>
<text class="t" x="181.2" y="526.8">RNApol II</text>
<path class="ar" d="M60.6,642.6V649.3H196.2M60.6,642.6H68.6"/>
<path d="M67.8,640.3L74.8,642.6L67.8,644.9Z" fill="#000"/>
<text class="av" x="80.6" y="662.9">Average gene length</text>
<path class="d" stroke="#d3355e" d="M301.0,596.5C301.9,595.9 305.1,594.2 307.2,592.7C309.3,591.2 312.8,589.3 314.9,586.5C317.0,583.7 319.4,577.7 321.1,574.2C322.8,570.8 325.2,563.5 326.5,563.5C327.8,563.5 328.5,570.3 329.5,574.2C330.5,578.1 331.9,585.9 333.4,589.6C334.9,593.3 337.2,596.4 339.5,598.8C341.8,601.2 345.8,604.3 348.8,605.8C351.8,607.3 355.1,608.2 359.5,608.8C363.9,609.4 371.8,609.3 378.0,609.6C384.2,609.9 393.6,610.6 401.0,611.0C408.4,611.4 419.2,612.2 427.0,612.2C434.8,612.2 445.9,611.7 452.9,611.0C459.9,610.3 468.2,608.6 473.7,607.6C479.2,606.6 485.2,604.9 489.3,604.0C493.4,603.1 499.2,602.1 501.0,601.8"/>
<path class="d" stroke="#4a4f9e" d="M301.0,604.2C301.9,603.9 305.1,602.6 307.2,601.9C309.3,601.2 312.6,599.9 314.9,599.6C317.2,599.3 320.4,600.1 322.6,599.9C324.8,599.7 327.8,598.1 329.5,598.5C331.2,598.9 332.0,601.5 334.2,602.7C336.4,603.9 340.4,605.5 344.2,606.5C348.0,607.5 354.4,609.0 359.5,609.6C364.6,610.2 371.8,610.5 378.0,610.8C384.2,611.1 393.6,611.1 401.0,611.4C408.4,611.7 419.2,612.7 427.0,612.7C434.8,612.7 445.9,612.1 452.9,611.4C459.9,610.7 468.2,609.1 473.7,608.1C479.2,607.1 485.2,605.3 489.3,604.4C493.4,603.5 499.2,602.6 501.0,602.3"/>
<path class="c" stroke="#d02a52" d="M301.0,588.8C301.5,588.3 302.8,587.4 304.2,585.8C305.6,584.2 308.7,580.3 310.3,578.1C311.9,575.9 313.6,573.2 314.9,571.2C316.2,569.2 317.6,568.2 318.8,565.0C320.0,561.8 321.4,553.9 322.6,549.6C323.8,545.3 325.9,537.0 326.8,536.5C327.7,536.0 328.2,543.4 328.8,546.5C329.4,549.6 329.9,554.5 331.1,557.3C332.3,560.1 334.8,562.9 336.5,565.0C338.2,567.1 340.8,569.8 342.6,571.2C344.4,572.6 346.7,573.4 348.8,574.2C350.9,575.0 354.0,576.3 356.5,576.5C359.0,576.7 363.4,575.5 365.7,575.5C368.0,575.5 370.0,575.9 371.8,576.5C373.6,577.1 376.0,578.6 378.0,579.6C380.0,580.6 382.7,581.4 385.4,582.9C388.1,584.4 393.1,588.0 395.8,589.4C398.5,590.8 400.9,592.1 403.6,592.5C406.3,592.9 411.7,592.3 414.0,592.0C416.3,591.7 417.2,591.4 419.2,590.6C421.1,589.8 424.7,589.3 427.0,586.8C429.3,584.3 432.6,577.1 434.7,573.8C436.8,570.5 439.4,565.5 441.2,564.7C443.0,563.9 444.8,566.3 446.4,568.6C448.0,570.9 449.8,577.2 451.6,580.3C453.4,583.4 456.2,587.2 458.1,589.4C460.1,591.6 462.3,593.8 464.6,595.1C466.9,596.5 470.8,597.9 473.7,598.4C476.6,598.9 481.4,598.7 484.1,598.4C486.8,598.1 489.9,597.6 491.9,596.6C493.8,595.6 495.7,592.9 497.1,592.0C498.5,591.1 500.4,590.8 501.0,590.6"/>
<path class="c" stroke="#464a96" d="M301.0,592.7C301.5,591.8 302.8,588.6 304.2,586.5C305.6,584.4 308.8,581.0 310.3,578.8C311.8,576.6 312.9,573.5 314.2,571.9C315.5,570.3 317.5,569.3 318.8,568.1C320.1,566.9 321.4,565.4 322.6,564.2C323.8,563.0 325.6,559.8 326.8,560.1C328.0,560.4 329.1,564.4 330.3,566.5C331.5,568.6 333.3,572.1 334.9,574.2C336.5,576.3 338.8,579.3 341.1,580.4C343.4,581.5 348.0,581.1 350.3,581.6C352.6,582.1 354.4,583.3 356.5,583.5C358.6,583.7 362.1,582.5 364.2,582.7C366.3,582.9 368.2,584.3 370.3,585.0C372.4,585.7 375.7,586.8 378.0,587.3C380.3,587.8 382.3,587.2 385.4,588.1C388.5,589.0 394.1,592.3 398.4,593.2C402.7,594.1 410.9,594.4 414.0,594.0C417.1,593.6 416.9,591.7 419.2,590.6C421.5,589.5 426.8,588.1 429.5,586.8C432.2,585.5 435.4,582.4 437.3,582.1C439.2,581.8 440.7,584.1 442.5,584.7C444.3,585.3 446.7,584.7 449.0,586.2C451.3,587.7 454.8,592.5 458.1,594.5C461.4,596.5 467.6,598.1 471.1,599.2C474.6,600.3 478.8,601.1 481.5,601.8C484.2,602.5 487.4,603.7 489.3,603.6C491.2,603.5 492.7,601.7 494.5,601.0C496.3,600.3 500.0,599.5 501.0,599.2"/>
<path class="ax" d="M300.0,519.1V626.8M297.5,626.8H508.0M297.0,626.8H300.0M297.0,599.9H300.0M297.0,573.0H300.0M297.0,546.0H300.0M297.0,519.1H300.0M313.8,626.8V630.3M326.9,626.8V630.3M394.0,626.8V630.3M461.0,626.8V630.3M474.4,626.8V630.3M501.3,626.8V630.3"/>
<text class="yl" x="292.2" y="629.7" textLength="3.9" lengthAdjust="spacingAndGlyphs">0</text>
<text class="yl" x="292.2" y="602.8" textLength="3.9" lengthAdjust="spacingAndGlyphs">5</text>
<text class="yl" x="288.5" y="575.9" textLength="7.6" lengthAdjust="spacingAndGlyphs">10</text>
<text class="yl" x="288.5" y="548.9" textLength="7.6" lengthAdjust="spacingAndGlyphs">15</text>
<text class="yl" x="288.5" y="522.0" textLength="7.6" lengthAdjust="spacingAndGlyphs">20</text>
<text class="xl" x="296.9" y="639.8" textLength="23.3" lengthAdjust="spacingAndGlyphs">-1000</text>
<text class="xl" x="325.8" y="639.8" textLength="17.7" lengthAdjust="spacingAndGlyphs">TSS</text>
<text class="xl" x="448.5" y="639.8" textLength="16.2" lengthAdjust="spacingAndGlyphs">End</text>
<text class="xl" x="467" y="639.8" textLength="25.6" lengthAdjust="spacingAndGlyphs">+1000</text>
<text class="xl" x="497" y="639.8" textLength="25.6" lengthAdjust="spacingAndGlyphs">+3000</text>
<text class="nr" transform="translate(285.1,571.5) rotate(-90)" text-anchor="middle">Normalized Reads</text>
<text class="t" x="445.6" y="527.7">H3K27me3</text>
<path class="ar" d="M330.3,643.3V650.9H466M330.3,643.3H338.3"/>
<path d="M337.5,641.0L344.5,643.3L337.5,645.6Z" fill="#000"/>
<text class="av" x="350.3" y="663.4">Average gene length</text>
<path d="M171.3,679.3H218.8" stroke="#c94a6c" stroke-width="1.3"/>
<path d="M171.3,691.0H218.8" stroke="#6262aa" stroke-width="1.3"/>
<path d="M171.5,709.2H218.8" stroke="#d3355e" stroke-width="1.2" stroke-dasharray="1.6 1.6"/>
<path d="M171.5,721.2H218.8" stroke="#4a4f9e" stroke-width="1.2" stroke-dasharray="1.6 1.6"/>
<text class="lg" x="224.9" y="682.2">induced genes, late erythroblasts</text>
<text class="lg" x="224.9" y="697.5">induced genes, early precursors (CFU-Es)</text>
<text class="lg" x="224.9" y="711.5">repressed genes, late erythroblasts</text>
<text class="lg" x="224.9" y="724.9">repressed genes, early precursors (CFU-Es)</text>
</svg></body></html>
